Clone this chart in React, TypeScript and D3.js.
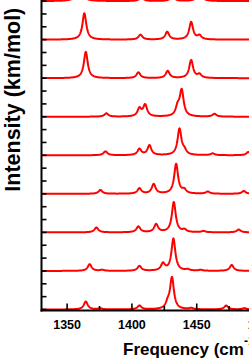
import React from 'react';
import * as d3 from 'd3';

// x-axis ticks (cm^-1)
const majorTicks = [1350, 1400, 1450, 1500];
const minorTicks = [1375, 1425, 1475];
// vertical offset (km/mol) between stacked spectra
const offsetStep = 300;
const yTickStep = 100;

// peaks: [frequency cm^-1, intensity km/mol], bottom spectrum first
const spectrum1 = [[1364.4, 62], [1375.7, 8], [1405.8, 30], [1427.6, 40], [1430.9, 245], [1445.7, 10], [1472.7, 30], [1486.8, 10]];
const spectrum2 = [[1367.4, 52], [1377, 8], [1405.8, 38], [1424, 55], [1432, 250], [1443, 10], [1452.9, 7], [1477, 46]];
const spectrum3 = [[1372.6, 38], [1405, 45], [1418.7, 62], [1432.3, 235], [1440.5, 18], [1455.2, 10], [1482.4, 22]];
const spectrum4 = [[1375.7, 30], [1405.8, 42], [1416.8, 74], [1434.1, 232], [1440.3, 28], [1458.5, 17], [1486.3, 22]];
const spectrum5 = [[1379.6, 30], [1405.8, 48], [1413.5, 76], [1436.7, 204], [1440.5, 30], [1462.3, 14], [1489.9, 26]];
const spectrum6 = [[1380.3, 26], [1405.8, 61], [1410.2, 90], [1435.3, 67], [1438.4, 200], [1463.7, 22]];
const spectrum7 = [[1364.4, 205], [1405, 45], [1427.6, 56], [1445.7, 140], [1452.1, 28]];
const spectrum8 = [[1363.3, 205], [1406.6, 38], [1427.2, 60], [1445.7, 136], [1452.1, 30]];
const spectrum9 = [[1359.5, 200], [1407.3, 30], [1431.3, 40], [1452.1, 90]];

const spectra = [spectrum1, spectrum2, spectrum3, spectrum4, spectrum5, spectrum6, spectrum7, spectrum8, spectrum9];

const HWHM = 1.8;
const FONT = "'Liberation Sans', Arial, Helvetica, sans-serif";

export default function App() {
  const width = 249;
  const height = 360;
  const x = d3.scaleLinear().domain([1330, 1510]).range([41.2, 274.5]);
  const y = d3.scaleLinear().domain([0, 2400]).range([309.5, 1.1]);

  const grid = d3.range(1330, 1510.001, 0.2);
  const line = d3
    .line<[number, number]>()
    .x((d) => x(d[0]))
    .y((d) => y(d[1]));

  const paths = spectra.map((peaks, i) => {
    const base = i * offsetStep;
    const pts: [number, number][] = grid.map((f) => {
      let s = 0;
      for (const [f0, a] of peaks) {
        const d = f - f0;
        s += (a * HWHM * HWHM) / (d * d + HWHM * HWHM);
      }
      return [f, base + s];
    });
    return line(pts) as string;
  });

  const yTicks = d3.range(0, 2400 + 1, yTickStep);
  const axisX = 41.5;
  const axisY = 310.5;

  return (
    <svg
      width={width}
      height={height}
      style={{ position: 'absolute', left: 0, top: 0, background: '#fff' }}
    >
      <rect x={0} y={0} width={width} height={height} fill="#fff" />
      {/* spectra */}
      <g>
        {paths.map((p, i) => (
          <path key={i} d={p} fill="none" stroke="#ff0000" strokeWidth={2} strokeLinejoin="round" />
        ))}
      </g>
      {/* x axis */}
      <line x1={axisX - 1} x2={width + 40} y1={axisY} y2={axisY} stroke="#000" strokeWidth={2} />
      {majorTicks.map((t) => (
        <line key={'M' + t} x1={x(t)} x2={x(t)} y1={axisY} y2={axisY - 7} stroke="#000" strokeWidth={1.6} />
      ))}
      {minorTicks.map((t) => (
        <line key={'m' + t} x1={x(t)} x2={x(t)} y1={axisY} y2={axisY - 4.5} stroke="#000" strokeWidth={1.6} />
      ))}
      {majorTicks.map((t) => (
        <text
          key={'l' + t}
          x={x(t)}
          y={328.5}
          textAnchor="middle"
          fontFamily={FONT}
          fontWeight="bold"
          fontSize={12.5}
          fill="#000"
        >
          {t}
        </text>
      ))}
      {/* y axis */}
      <line x1={axisX} x2={axisX} y1={0} y2={axisY + 1} stroke="#000" strokeWidth={2} />
      {yTicks.map((t) => (
        <line key={'y' + t} x1={axisX} x2={axisX + 5} y1={y(t)} y2={y(t)} stroke="#000" strokeWidth={1.6} />
      ))}
      {/* titles */}
      <text
        x={20.5}
        y={191.7}
        transform="rotate(-90, 20.5, 191.7)"
        fontFamily={FONT}
        fontWeight="bold"
        fontSize={21.5}
        fill="#000"
      >
        Intensity (km/mol)
      </text>
      <text x={123} y={355} fontFamily={FONT} fontWeight="bold" fontSize={17} fill="#000">
        Frequency (cm
        <tspan fontSize={12} dy={-10}>-1</tspan>
        <tspan dy={10}>)</tspan>
      </text>
    </svg>
  );
}
